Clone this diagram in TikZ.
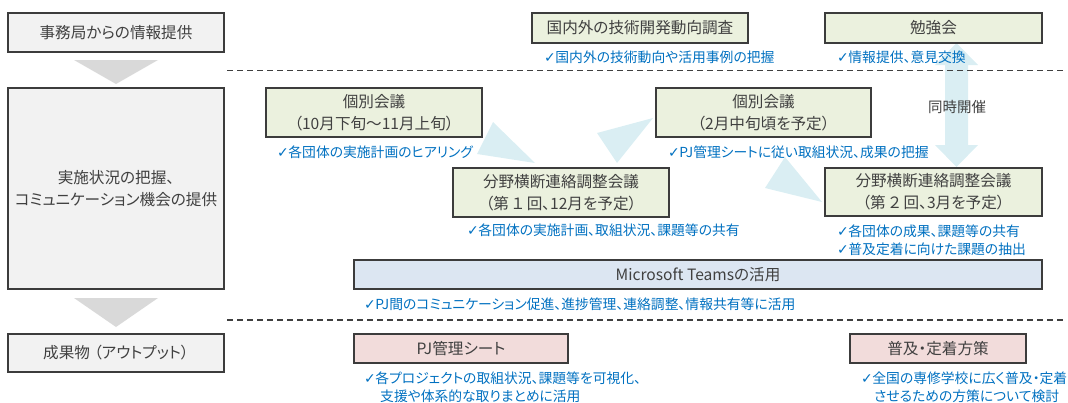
\documentclass[tikz,border=0pt]{standalone}
\usepackage{fontspec}
\usetikzlibrary{calc}
\newfontfamily\jp[RawFeature=+palt]{Noto Sans CJK JP}
\newfontfamily\checkfont{DejaVu Sans}
\definecolor{ink}{HTML}{404040}
\definecolor{edge}{HTML}{3C3C3C}
\definecolor{greyfill}{HTML}{F2F2F2}
\definecolor{olivefill}{HTML}{EBF1DE}
\definecolor{bluefill}{HTML}{DCE6F2}
\definecolor{pinkfill}{HTML}{F2DCDB}
\definecolor{notecol}{HTML}{0070C0}
\definecolor{flowcol}{HTML}{DAEEF3}
\definecolor{stepgrey}{HTML}{D9D9D9}
\newcommand\ck{{\checkfont\fontsize{14}{10}\selectfont ✓}\hspace{-0.5pt}}
\tikzset{
  basebox/.style={draw=edge, line width=1.3pt, text=ink, align=center, inner sep=0pt,
    font=\jp\fontsize{15.6}{22}\selectfont},
  leftbox/.style={basebox, fill=greyfill},
  planbox/.style={basebox, fill=olivefill},
  toolbox/.style={basebox, fill=bluefill},
  outbox/.style={basebox, fill=pinkfill},
  note/.style={text=notecol, anchor=west, inner sep=0pt, align=left,
    font=\jp\fontsize{13.8}{17.5}\selectfont},
  sepline/.style={draw=ink, line width=1.1pt, dash pattern=on 6pt off 4pt},
  flow/.style={fill=flowcol, draw=none},
  stepdown/.style={fill=stepgrey, draw=none},
}
\begin{document}
\begin{tikzpicture}[x=1pt,y=-1pt]
\useasboundingbox (0,0) rectangle (1068,402);

% flow markers between the meetings
\fill[flow] (493,122) -- (477,154) -- (535,163) -- cycle;
\fill[flow] (597,133) -- (617,163) -- (653,118) -- cycle;
\fill[flow] (785,157) -- (765,188) -- (822,202) -- cycle;

% two-way arrow: study group <-> second coordination meeting
\coordinate (dtop) at (956.5,43);
\coordinate (dbot) at (956.5,167);
\fill[flow] (dtop) -- ($(dtop)+(21.5,22)$) -- ($(dtop)+(11.5,22)$)
  -- ($(dbot)+(11.5,-22)$) -- ($(dbot)+(21.5,-22)$) -- (dbot)
  -- ($(dbot)+(-21.5,-22)$) -- ($(dbot)+(-11.5,-22)$)
  -- ($(dtop)+(-11.5,22)$) -- ($(dtop)+(-21.5,22)$) -- cycle;

% downward steps of the left column
\fill[stepdown] (74,60) -- (158,60) -- (116,84) -- cycle;
\fill[stepdown] (74,298) -- (158,298) -- (116,327) -- cycle;

% section separators
\coordinate (sepAl) at (227,70.5);
\coordinate (sepAr) at (1065,70.5);
\coordinate (sepBl) at (227,320);
\coordinate (sepBr) at (1065,320);
\draw[sepline] (sepAl) -- (sepAr);
\draw[sepline] (sepBl) -- (sepBr);

% left column
\node[leftbox, minimum width=216pt, minimum height=39pt] (jimu) at (116,32.5) {事務局からの情報提供};
\node[leftbox, minimum width=216pt, minimum height=201pt] (jisshi) at (116,188.5)
  {実施状況の把握、\\コミュニケーション機会の提供};
\node[leftbox, minimum width=216pt, minimum height=38pt] (seika) at (116,353) {成果物\hspace{4pt}（アウトプット）};

% information from the secretariat
\node[planbox, minimum width=216pt, minimum height=30pt] (kokunai) at (640,28) {国内外の技術開発動向調査};
\node[planbox, minimum width=217pt, minimum height=30pt] (benkyo) at (933.5,28) {勉強会};
\node[note] (nKokunai) at (544,57.5) {\ck 国内外の技術動向や活用事例の把握};
\node[note] (nBenkyo) at (837,57.5) {\ck 情報提供、意見交換};

% meetings
\node[planbox, minimum width=216pt, minimum height=49pt] (kobetsuA) at (374,112.5)
  {個別会議\\（10月下旬～11月上旬）};
\node[note] (nKobetsuA) at (277,152.5) {\ck 各団体の実施計画のヒアリング};
\node[planbox, minimum width=215pt, minimum height=49pt] (kobetsuB) at (763.5,112.5)
  {個別会議\\（2月中旬頃を予定）};
\node[note] (nKobetsuB) at (668,152.5) {\ck PJ管理シートに従い取組状況、成果の把握};
\node[text=ink, inner sep=0pt, font=\jp\fontsize{14.5}{17}\selectfont] (doji) at (957,107) {同時開催};
\node[planbox, minimum width=216pt, minimum height=49pt] (bunyaA) at (561,192.5)
  {分野横断連絡調整会議\\（第\hspace{3pt}１\hspace{3pt}回、12月を予定）};
\node[note] (nBunyaA) at (467,230.5) {\ck 各団体の実施計画、取組状況、課題等の共有};
\node[planbox, minimum width=217pt, minimum height=48pt] (bunyaB) at (933.5,192)
  {分野横断連絡調整会議\\（第\hspace{3pt}２\hspace{3pt}回、3月を予定）};
\node[note] (nBunyaB) at (837,240) {\ck 各団体の成果、課題等の共有\\\ck 普及定着に向けた課題の抽出};

% shared tool
\node[toolbox, minimum width=688pt, minimum height=29pt] (teams) at (698,274.5) {Microsoft Teamsの活用};
\node[note] (nTeams) at (364,304.5) {\ck PJ間のコミュニケーション促進、進捗管理、連絡調整、情報共有等に活用};

% outputs
\node[outbox, minimum width=214pt, minimum height=29pt] (pj) at (461,348.5) {PJ管理シート};
\node[note] (nPj) at (364,387) {\ck 各プロジェクトの取組状況、課題等を可視化、\\\hspace*{16pt}支援や体系的な取りまとめに活用};
\node[outbox, minimum width=176pt, minimum height=29pt] (fukyu) at (938,348.5) {普及・定着方策};
\node[note] (nFukyu) at (861,387) {\ck 全国の専修学校に広く普及・定着\\\hspace*{13pt}させるための方策について検討};
\end{tikzpicture}
\end{document}
